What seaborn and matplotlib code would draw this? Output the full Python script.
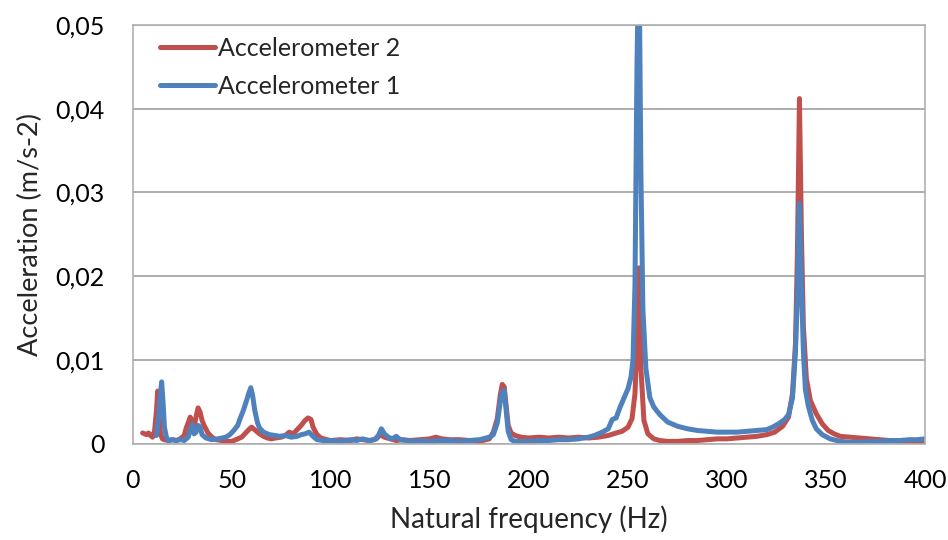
import pandas as pd
import seaborn as sns
import matplotlib.pyplot as plt
from matplotlib.ticker import FuncFormatter

# Accelerometer 2 (red) - spectrum
acc2_freq = [5, 6, 7, 8, 9, 10, 11, 12, 12.6, 13.3,
             14, 15, 16, 18, 20, 22, 24, 26, 27, 28,
             29, 30, 31, 32, 33, 34, 35, 36, 38, 40,
             42, 45, 48, 50, 52, 55, 57, 59, 60, 62,
             64, 66, 68, 70, 72, 75, 77, 79, 81, 83,
             85, 87, 88.5, 90, 91, 93, 95, 98, 100, 105,
             110, 113, 116, 120, 123, 125, 127, 130, 133, 136,
             140, 145, 150, 153, 156, 160, 165, 170, 175, 180,
             182, 184, 185.5, 186.5, 187.5, 188.5, 189.5, 191, 193, 196,
             200, 205, 210, 215, 220, 225, 230, 235, 240, 244,
             247, 250, 252, 253.5, 254.5, 255.5, 256.5, 258, 260, 263,
             266, 270, 275, 280, 285, 290, 295, 300, 305, 310,
             315, 320, 324, 328, 331, 333, 334.5, 335.5, 336.5, 337.5,
             338.5, 340, 342, 345, 348, 351, 354, 357, 362, 367,
             372, 377, 382, 387, 392, 396, 400]
acc2_vals = [.0013, .0012, .0011, .0013, .0010, .0008, .0015, .0040, .0063, .0035,
             .0012, .0006, .0005, .0004, .0005, .0004, .0006, .0010, .0019, .0025,
             .0032, .0026, .0020, .0033, .0043, .0038, .0028, .0022, .0013, .0008,
             .0005, .0004, .0003, .0003, .0005, .0008, .0013, .0018, .0020, .0016,
             .0012, .0009, .0007, .0006, .0007, .0008, .0010, .0014, .0012, .0017,
             .0022, .0028, .0031, .0029, .0020, .0011, .0007, .0005, .0004, .0005,
             .0004, .0006, .0005, .0004, .0006, .0011, .0008, .0006, .0004, .0005,
             .0004, .0005, .0006, .0008, .0006, .0005, .0005, .0004, .0003, .0006,
             .0014, .0030, .0058, .0071, .0068, .0045, .0022, .0013, .0010, .0008,
             .0007, .0008, .0007, .0008, .0007, .0008, .0007, .0008, .0010, .0013,
             .0015, .0020, .0030, .0060, .0120, .0210, .0090, .0028, .0012, .0006,
             .0004, .0003, .0003, .0004, .0004, .0005, .0006, .0006, .0007, .0008,
             .0009, .0011, .0014, .0021, .0032, .0060, .0120, .0230, .0412, .0250,
             .0140, .0078, .0052, .0036, .0024, .0016, .0012, .0009, .0008, .0007,
             .0006, .0005, .0004, .0003, .0003, .0002, .0002]

# Accelerometer 1 (blue)
acc1_freq = [12, 13, 14, 14.6, 15.3, 16, 17, 18, 20, 22,
             24, 26, 28, 29, 30, 31, 32, 33, 34, 35,
             37, 40, 43, 45, 47, 49, 51, 53, 54, 55,
             56, 57.5, 58.5, 59.6, 60.5, 61.6, 63, 64, 66, 69,
             72, 74, 77, 80, 83, 85, 87, 89, 91, 93,
             96, 100, 105, 110, 113, 116, 119, 122, 124, 125.5,
             127, 129, 131, 133, 135, 138, 142, 146, 150, 155,
             160, 165, 170, 175, 180, 182, 184, 185.5, 186.5, 187.5,
             188.5, 189.5, 191, 193, 196, 200, 205, 210, 215, 220,
             225, 230, 233, 237, 240, 242, 244, 246, 248, 250,
             251.5, 252.5, 253.5, 254.5, 255.5, 256.5, 257.5, 259, 261, 263,
             266, 270, 275, 280, 285, 290, 295, 300, 305, 310,
             315, 320, 323, 326, 329, 331, 333, 334.5, 335.5, 336.5,
             337.5, 338.5, 339.5, 341, 343, 345, 348, 352, 357, 362,
             367, 372, 377, 382, 387, 392, 396, 400]
acc1_vals = [.0010, .0030, .0060, .0074, .0050, .0020, .0008, .0004, .0005, .0004,
             .0005, .0004, .0008, .0016, .0023, .0012, .0014, .0022, .0020, .0011,
             .0007, .0005, .0006, .0007, .0008, .0011, .0016, .0022, .0029, .0035,
             .0041, .0052, .0060, .0067, .0058, .0040, .0025, .0019, .0014, .0011,
             .0010, .0009, .0010, .0008, .0009, .0011, .0012, .0014, .0009, .0005,
             .0004, .0004, .0003, .0005, .0004, .0006, .0004, .0005, .0010, .0018,
             .0012, .0008, .0006, .0009, .0005, .0004, .0003, .0004, .0003, .0004,
             .0004, .0003, .0004, .0005, .0008, .0011, .0025, .0050, .0062, .0064,
             .0040, .0015, .0005, .0003, .0003, .0003, .0004, .0004, .0005, .0005,
             .0006, .0008, .0010, .0014, .0018, .0029, .0031, .0044, .0055, .0066,
             .0080, .0100, .0190, .0450, .0600, .0320, .0160, .0090, .0055, .0044,
             .0035, .0026, .0021, .0018, .0016, .0015, .0014, .0014, .0014, .0015,
             .0016, .0017, .0020, .0024, .0029, .0035, .0055, .0110, .0180, .0287,
             .0190, .0110, .0065, .0045, .0028, .0018, .0011, .0006, .0003, .0002,
             .0002, .0003, .0003, .0004, .0004, .0005, .0005, .0006]

series_names = ['Accelerometer 2', 'Accelerometer 1']
series_colors = ['#C0504D', '#4F81BD']

df = pd.concat([
    pd.DataFrame({'freq': acc2_freq, 'acc': acc2_vals, 'sensor': series_names[0]}),
    pd.DataFrame({'freq': acc1_freq, 'acc': acc1_vals, 'sensor': series_names[1]}),
])

sns.set_style('white')
plt.rcParams['font.family'] = ['Lato', 'DejaVu Sans']

fig, ax = plt.subplots(figsize=(9.48, 5.4), dpi=100)
fig.subplots_adjust(left=0.140, right=0.976, top=0.954, bottom=0.178)

sns.lineplot(data=df, x='freq', y='acc', hue='sensor', hue_order=series_names,
             palette=series_colors, estimator=None, sort=False, lw=3.6, ax=ax)

ax.set_xlim(0, 400)
ax.set_ylim(0, 0.05)
ax.set_xticks(range(0, 401, 50))
ax.set_yticks([0, 0.01, 0.02, 0.03, 0.04, 0.05])
ax.yaxis.set_major_formatter(FuncFormatter(lambda v, p: '0' if v == 0 else f'{v:.2f}'.replace('.', ',')))

ax.yaxis.grid(True, color='#A0A0A0', lw=1.2)
ax.xaxis.grid(False)
for s in ax.spines.values():
    s.set_color('#B0B0B0')
    s.set_linewidth(1.2)

ax.tick_params(axis='both', length=0, labelsize=18, colors='black')
ax.tick_params(axis='y', pad=20)
ax.tick_params(axis='x', pad=18)
ax.set_xlabel('Natural frequency (Hz)', fontsize=20, labelpad=10)
ax.set_ylabel('Acceleration (m/s-2)', fontsize=19.5, labelpad=9)

ax.legend(loc='upper left', bbox_to_anchor=(0.022, 0.995), borderaxespad=0,
          frameon=False, handlelength=2.2, handletextpad=0.1, labelspacing=0.6,
          fontsize=18)

plt.savefig('out.png', dpi=100)
